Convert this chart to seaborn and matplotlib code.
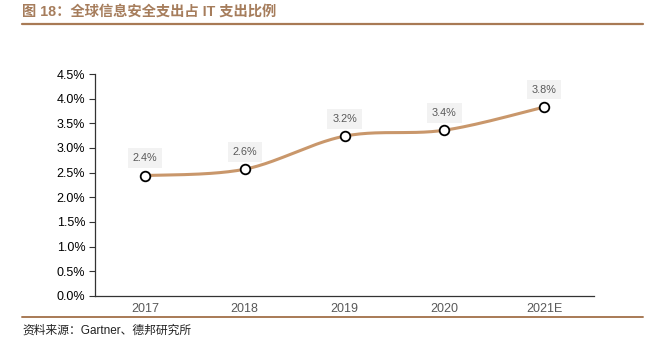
import numpy as np
import pandas as pd
import matplotlib
matplotlib.use("Agg")
import matplotlib.pyplot as plt
import seaborn as sns
from matplotlib.lines import Line2D
from matplotlib.ticker import FixedLocator, PercentFormatter

categories = ["2017", "2018", "2019", "2020", "2021E"]
values = [2.44, 2.57, 3.24, 3.36, 3.83]
point_labels = ["2.4%", "2.6%", "3.2%", "3.4%", "3.8%"]
yticks = [0.0, 0.5, 1.0, 1.5, 2.0, 2.5, 3.0, 3.5, 4.0, 4.5]
title = "图 18：全球信息安全支出占 IT 支出比例"
source = "资料来源：Gartner、德邦研究所"

sns.set_theme(style="white")
plt.rcParams["font.family"] = ["Liberation Sans", "Noto Sans CJK SC", "DejaVu Sans"]

LINE_C = "#C9976B"
BROWN = "#A87A55"
TXT = "#595959"

fig = plt.figure(figsize=(6.54, 3.51), dpi=100)
W, H = 654, 351
ax = fig.add_axes([95 / W, 1 - 296 / H, (594 - 95) / W, (296 - 74) / H])

# smooth curve (Catmull-Rom through data points)
xs = np.arange(len(values), dtype=float)
ys = np.array(values, dtype=float)
px = np.concatenate([[xs[0]], xs, [xs[-1]]])
py = np.concatenate([[ys[0]], ys, [ys[-1]]])
cx, cy = [], []
for i in range(1, len(px) - 2):
    t = np.linspace(0, 1, 40)
    for arr, out in ((px, cx), (py, cy)):
        p0, p1, p2, p3 = arr[i - 1], arr[i], arr[i + 1], arr[i + 2]
        out.extend(0.5 * ((2 * p1) + (-p0 + p2) * t + (2 * p0 - 5 * p1 + 4 * p2 - p3) * t ** 2
                          + (-p0 + 3 * p1 - 3 * p2 + p3) * t ** 3))
curve = pd.DataFrame({"x": cx, "y": cy})
sns.lineplot(data=curve, x="x", y="y", ax=ax, color=LINE_C, linewidth=2.2, sort=False,
             estimator=None)

pts = pd.DataFrame({"x": xs, "y": ys})
sns.scatterplot(data=pts, x="x", y="y", ax=ax, s=48, color="white", edgecolor="black",
                linewidth=1.3, zorder=5)

for x, y, lab in zip(xs, ys, point_labels):
    ax.annotate(lab, (x, y), xytext=(0, 9), textcoords="offset points", ha="center",
                va="bottom", fontsize=7.8, color=TXT,
                bbox=dict(boxstyle="square,pad=0.45", fc="#F2F2F2", ec="none"))

ax.set_xlim(-0.5, len(categories) - 0.5)
ax.set_ylim(0, 4.5)
ax.set_yticks(yticks)
ax.yaxis.set_major_formatter(PercentFormatter(decimals=1))
ax.set_xticks(np.arange(-0.5, len(categories), 1.0))
ax.set_xticklabels([])
ax.xaxis.set_minor_locator(FixedLocator(xs))
ax.set_xticks(xs, minor=True)
ax.set_xticklabels(categories, minor=True)
ax.tick_params(axis="x", which="major", direction="in", length=4, width=0.8, color="#333333")
ax.tick_params(axis="x", which="minor", length=0, labelsize=9, labelcolor=TXT, pad=5)
ax.tick_params(axis="y", direction="out", length=4, width=0.8, color="#333333", labelsize=9,
               labelcolor="black", pad=3, left=True)
ax.set_xlabel("")
ax.set_ylabel("")
for s in ("top", "right"):
    ax.spines[s].set_visible(False)
for s in ("left", "bottom"):
    ax.spines[s].set_color("#333333")
    ax.spines[s].set_linewidth(0.9)

fig.text(22 / W, 1 - 12 / H, title, fontsize=10.3, fontweight="bold", color="#A67D5C",
         va="center", ha="left")
fig.add_artist(Line2D([22 / W, 643 / W], [1 - 23.5 / H, 1 - 23.5 / H], color=BROWN, lw=1.6))
fig.add_artist(Line2D([22 / W, 643 / W], [1 - 317 / H, 1 - 317 / H], color=BROWN, lw=1.4))
fig.text(22 / W, 1 - 331 / H, source, fontsize=8.5, color="#222222", va="center", ha="left")

fig.savefig("out.png", dpi=100)
